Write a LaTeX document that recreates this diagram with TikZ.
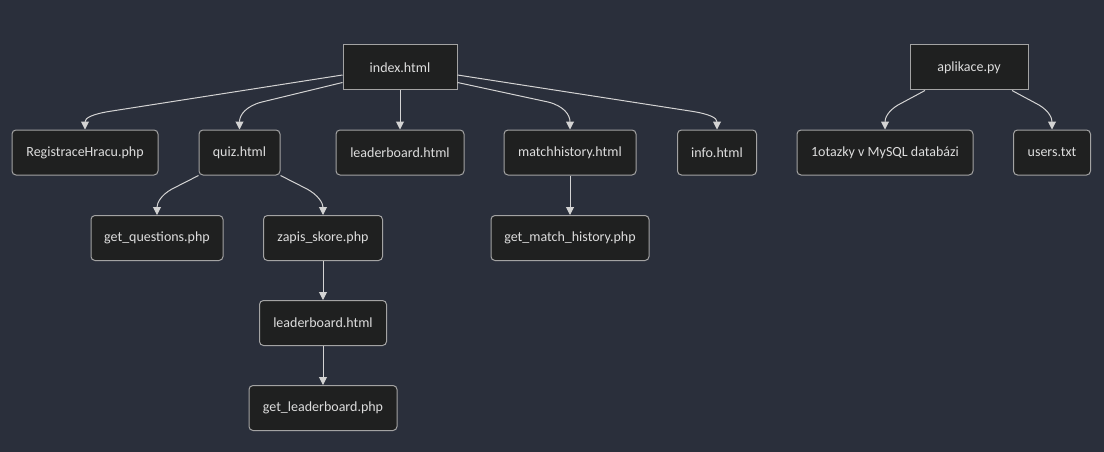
\documentclass[tikz,border=0pt]{standalone}
\usepackage{fontspec}
\setmainfont{Carlito}
\usetikzlibrary{arrows.meta}
\definecolor{bgc}{HTML}{2A2F3B}
\definecolor{boxc}{HTML}{1F2020}
\definecolor{bordc}{HTML}{A3A3A3}
\definecolor{textc}{HTML}{DDDDDD}
\definecolor{linec}{HTML}{D3D3D3}
\tikzset{
  box/.style={draw=bordc, fill=boxc, line width=1pt, rounded corners=4pt,
    minimum height=45pt, inner sep=0pt, text=textc, font=\fontsize{14}{16}\selectfont},
  sqbox/.style={box, rounded corners=0pt},
  edge/.style={draw=linec, line width=1pt, -{Triangle[length=8pt,width=8pt]}}
}
\begin{document}
\begin{tikzpicture}[x=1pt,y=-1pt]
\fill[bgc] (0,0) rectangle (1104,452);
\useasboundingbox (0,0) rectangle (1104,452);
% top level
\node[sqbox, minimum width=114pt] (index) at (400,67.5) {index.html};
\node[sqbox, minimum width=118pt] (ap) at (969,67.5) {aplikace.py};
% second level
\node[box, minimum width=146pt] (reg) at (85,152.5) {RegistraceHracu.php};
\node[box, minimum width=81pt] (quiz) at (239.5,152.5) {quiz.html};
\node[box, minimum width=128pt] (lb) at (400,152.5) {leaderboard.html};
\node[box, minimum width=132pt] (mh) at (570,152.5) {matchhistory.html};
\node[box, minimum width=79pt] (info) at (717,152.5) {info.html};
\node[box, minimum width=176pt] (db) at (885,152.5) {1otazky v MySQL databázi};
\node[box, minimum width=77pt] (users) at (1052,152.5) {users.txt};
% third level
\node[box, minimum width=132pt] (gq) at (157,238) {get\_questions.php};
\node[box, minimum width=119pt] (zs) at (323,238) {zapis\_skore.php};
\node[box, minimum width=158pt] (gmh) at (570,238) {get\_match\_history.php};
% fourth and fifth
\node[box, minimum width=127pt] (lb2) at (323,323) {leaderboard.html};
\node[box, minimum width=148pt] (gl) at (323,408) {get\_leaderboard.php};
% edges
\draw[edge] ([yshift=-7.5pt]index.west) -- (112,111) .. controls (92,114) and (85,118) .. (reg.north);
\draw[edge] ([yshift=-15pt]index.west) -- (262,102) .. controls (246,106) and (239.5,115) .. (quiz.north);
\draw[edge] (index.south) -- (lb.north);
\draw[edge] ([yshift=-15pt]index.east) -- (548,102) .. controls (564,106) and (570,115) .. (mh.north);
\draw[edge] ([yshift=-7.5pt]index.east) -- (690,111) .. controls (710,114) and (717,118) .. (info.north);
\draw[edge] ([xshift=-44pt]ap.south) -- (898,105) .. controls (888,111) and (885,118) .. (db.north);
\draw[edge] ([xshift=43pt]ap.south) -- (1039,105) .. controls (1049,111) and (1052,118) .. (users.north);
\draw[edge] (quiz.south west) -- (172,189) .. controls (161,195) and (157,203) .. (gq.north);
\draw[edge] (quiz.south east) -- (307,189) .. controls (318,195) and (323,203) .. (zs.north);
\draw[edge] (mh.south) -- (gmh.north);
\draw[edge] (zs.south) -- (lb2.north);
\draw[edge] (lb2.south) -- (gl.north);
\end{tikzpicture}
\end{document}
